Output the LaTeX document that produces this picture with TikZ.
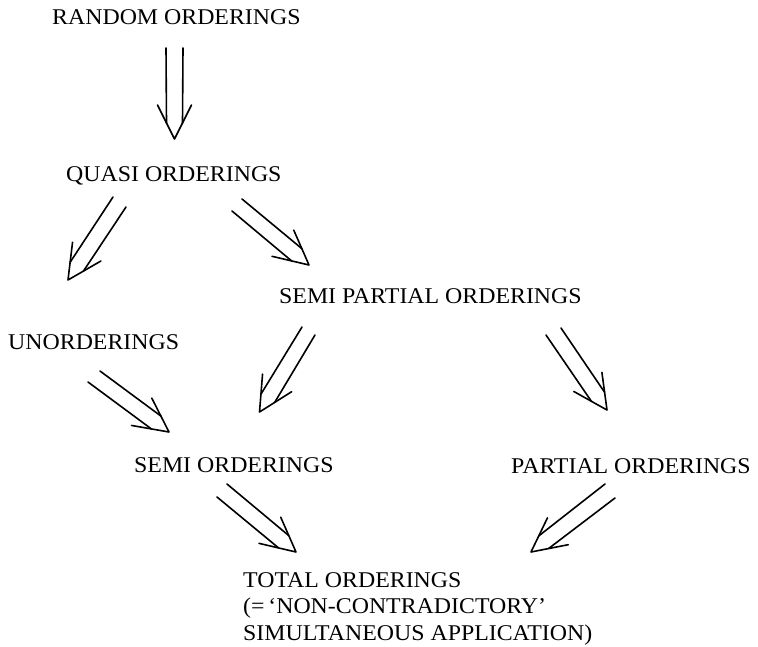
\documentclass[tikz,border=0pt]{standalone}
\usepackage{fontspec}
\setmainfont{Liberation Serif}[FakeStretch=1.06]
\usetikzlibrary{calc}
\tikzset{
  lbl/.style={inner sep=0pt, anchor=base west, font=\fontsize{22.5}{26.5}\selectfont},
  arr/.style={line width=1.6pt, line cap=round, line join=round}
}
\newcommand\dblarrow[4]{%
  \coordinate (#1m) at ($(#2)!0.5!(#3)$);
  \coordinate (#1c) at ($(#4)!16pt!(#1m)$);
  \coordinate (#1b) at ($(#4)!34pt!(#1m)$);
  \draw[arr] (#2) -- ($(#1c)!8pt!90:(#4)$);
  \draw[arr] (#3) -- ($(#1c)!8pt!-90:(#4)$);
  \draw[arr] ($(#1b)!17pt!90:(#4)$) -- (#4) -- ($(#1b)!17pt!-90:(#4)$);
}
\begin{document}
\begin{tikzpicture}[x=1pt,y=-1pt]
\useasboundingbox (0,0) rectangle (758,646);
% labels
\node[lbl] (random) at (52,24) {RANDOM ORDERINGS};
\node[lbl] (quasi) at (66,181) {QUASI ORDERINGS};
\node[lbl] (semipartial) at (279,303) {SEMI PARTIAL ORDERINGS};
\node[lbl] (un) at (8,349) {UNORDERINGS};
\node[lbl] (semi) at (134,472) {SEMI ORDERINGS};
\node[lbl] (partial) at (511,473) {PARTIAL ORDERINGS};
\node[lbl, anchor=north west, align=left] (total) at (243,572)
  {TOTAL ORDERINGS\\(=\,`NON-CONTRADICTORY'\\SIMULTANEOUS APPLICATION)};
% arrow coordinates
\coordinate (r1p) at (183,48);  \coordinate (r1m) at (166,48);  \coordinate (r1t) at (174.5,139);
\coordinate (q1p) at (126,207); \coordinate (q1m) at (113,197); \coordinate (q1t) at (68,280);
\coordinate (q2p) at (242,199); \coordinate (q2m) at (232,211); \coordinate (q2t) at (309,265);
\coordinate (u1p) at (100,371); \coordinate (u1m) at (88,382);  \coordinate (u1t) at (169,432);
\coordinate (s1p) at (315,335); \coordinate (s1m) at (302,327); \coordinate (s1t) at (259.5,412);
\coordinate (s2p) at (561,328); \coordinate (s2m) at (546,335); \coordinate (s2t) at (607,410);
\coordinate (e1p) at (227,484); \coordinate (e1m) at (217,497); \coordinate (e1t) at (296,552);
\coordinate (p1p) at (615,498); \coordinate (p1m) at (605,484); \coordinate (p1t) at (531,552);
\dblarrow{ra}{r1p}{r1m}{r1t}
\dblarrow{qa}{q1p}{q1m}{q1t}
\dblarrow{qb}{q2p}{q2m}{q2t}
\dblarrow{ua}{u1p}{u1m}{u1t}
\dblarrow{sa}{s1p}{s1m}{s1t}
\dblarrow{sb}{s2p}{s2m}{s2t}
\dblarrow{ea}{e1p}{e1m}{e1t}
\dblarrow{pa}{p1p}{p1m}{p1t}
\end{tikzpicture}
\end{document}
